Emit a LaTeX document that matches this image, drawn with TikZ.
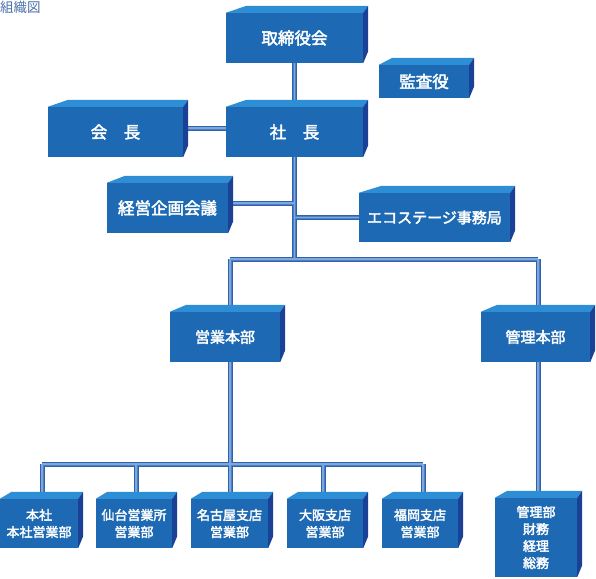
\documentclass[tikz,border=0pt]{standalone}
\usepackage{fontspec}
\setmainfont{Noto Sans CJK JP}
\newfontfamily\boxfont{Noto Sans CJK JP}[FakeBold=2.5]
\usetikzlibrary{calc,backgrounds}
\definecolor{frontc}{HTML}{1D69B3}
\definecolor{topc}{HTML}{2D8DD5}
\definecolor{sidec}{HTML}{1B4196}
\definecolor{connd}{HTML}{2E62AE}
\definecolor{connm}{HTML}{4C80C4}
\definecolor{connl}{HTML}{7FA7DB}
\definecolor{titlec}{HTML}{4A70AA}
\tikzset{
  box/.style={rectangle, inner sep=0pt, fill=frontc, text=white, align=center,
    font=\boxfont\fontsize{16.5}{18}\selectfont},
  midbox/.style={box, font=\boxfont\fontsize{15}{17}\selectfont},
  smallbox/.style={box, font=\boxfont\fontsize{13}{17}\selectfont},
  connout/.style={draw=connd, line width=5pt},
  connmid/.style={draw=connm, line width=3pt},
  connin/.style={draw=connl, line width=1.2pt},
}
\newcommand\cubefaces[1]{%
  \fill[topc] (#1.north west) -- ($(#1.north west)!0.15!(#1.north east)+(0,-7)$)
    -- ($(#1.north east)+(5,-7)$) -- (#1.north east) -- cycle;
  \fill[sidec] (#1.north east) -- ($(#1.north east)+(5,-7)$)
    -- ($(#1.south east)+(5,-12)$) -- (#1.south east) -- cycle;}
\newcommand\conns[1]{%
  \draw[#1] (board.south) -- (pres.north);
  \draw[#1] ([yshift=4pt]chair.east) -- ([yshift=4pt]pres.west);
  \draw[#1] (pres.south) -- (pres.south |- s1);
  \draw[#1] ([yshift=5pt]plan.east) -| (pres.south);
  \draw[#1] (eco.west) -| (pres.south);
  \draw[#1] (s1) -- (k1);
  \draw[#1] (sales.north -| s1) -- (s1);
  \draw[#1] (admin.north -| k1) -- (k1);
  \draw[#1] (sales.south -| t3) -- (t3);
  \draw[#1] (admin.south -| k1) -- (kanri.north -| k1);
  \draw[#1] (t1) -- (t5);
  \draw[#1] (b1.north -| t1) -- (t1);
  \draw[#1] (b2.north -| t2) -- (t2);
  \draw[#1] (b3.north -| t3) -- (t3);
  \draw[#1] (b4.north -| t4) -- (t4);
  \draw[#1] (b5.north -| t5) -- (t5);}
\begin{document}
\begin{tikzpicture}[x=1pt,y=-1pt]
\useasboundingbox (0,0) rectangle (596,578);
\node[anchor=north west, inner sep=0pt, text=titlec, font=\fontsize{13.5}{15}\selectfont] (title) at (0,0.5) {組織図};
\node[box, minimum width=137, minimum height=50] (board) at (294.5,38) {取締役会};
\node[box, minimum width=90, minimum height=33] (audit) at (424,81.5) {監査役};
\node[box, minimum width=135, minimum height=50] (chair) at (115.5,132) {会　長};
\node[box, minimum width=137, minimum height=50] (pres) at (294.5,132) {社　長};
\node[box, minimum width=121, minimum height=50] (plan) at (167.5,208) {経営企画会議};
\node[midbox, minimum width=151, minimum height=49] (eco) at (434.5,217.5) {エコステージ事務局};
\node[midbox, minimum width=110, minimum height=50] (sales) at (225,337) {営業本部};
\node[midbox, minimum width=109, minimum height=50] (admin) at (535.5,337) {管理本部};
\node[smallbox, minimum width=78, minimum height=49] (b1) at (39,523.5) {本社\\本社営業部};
\node[smallbox, minimum width=76, minimum height=49] (b2) at (134,523.5) {仙台営業所\\営業部};
\node[smallbox, minimum width=77, minimum height=49] (b3) at (229.5,523.5) {名古屋支店\\営業部};
\node[smallbox, minimum width=76, minimum height=49] (b4) at (325,523.5) {大阪支店\\営業部};
\node[smallbox, minimum width=76, minimum height=49] (b5) at (420,523.5) {福岡支店\\営業部};
\node[smallbox, minimum width=82, minimum height=79] (kanri) at (536,537.5) {管理部\\財務\\経理\\総務};
\foreach \n in {board,audit,chair,pres,plan,eco,sales,admin,b1,b2,b3,b4,b5,kanri} {\cubefaces{\n}}
\coordinate (s1) at (230,259);
\coordinate (k1) at (538,259);
\coordinate (t1) at (42,464);
\coordinate (t2) at (136,464);
\coordinate (t3) at (230,464);
\coordinate (t4) at (323,464);
\coordinate (t5) at (423,464);
\begin{pgfonlayer}{background}
\conns{connout}
\conns{connmid}
\conns{connin}
\end{pgfonlayer}
\end{tikzpicture}
\end{document}
